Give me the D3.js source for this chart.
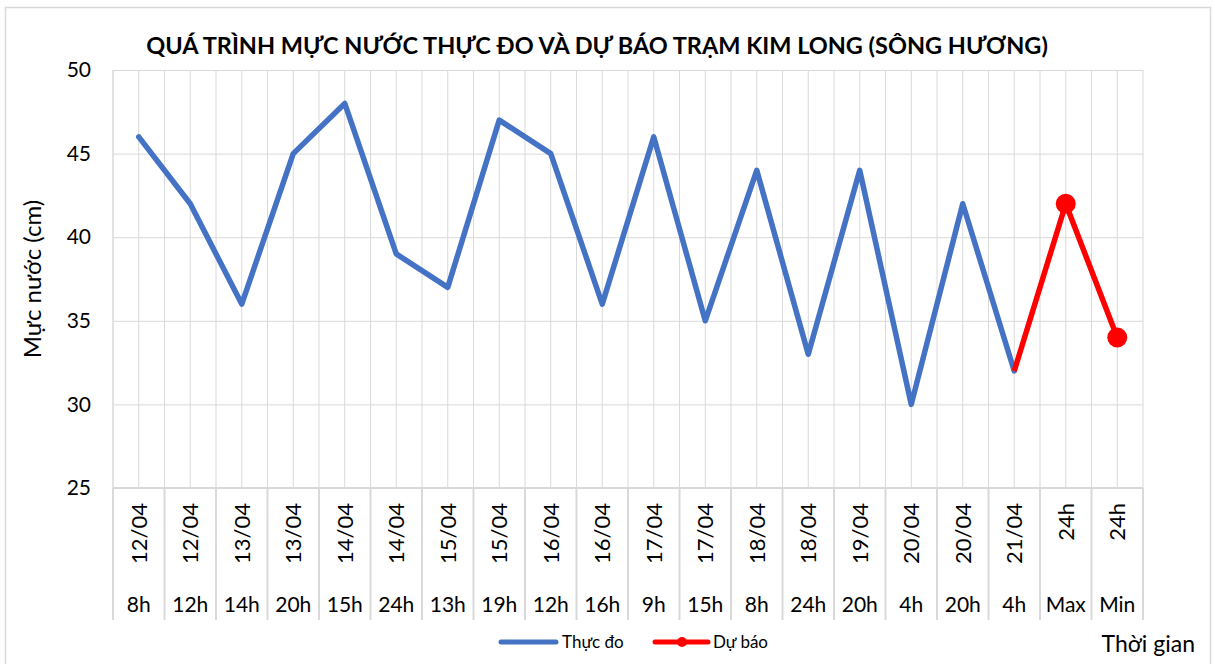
<!DOCTYPE html>
<html>
<head>
<meta charset="utf-8">
<script src="https://cdn.jsdelivr.net/npm/d3@7"></script>
<style>
  body { margin: 0; background: #fff; }
  text { font-family: Lato, "Open Sans", sans-serif; fill: #000; }
</style>
</head>
<body>
<div id="chart"></div>
<script>
// data
const dates = ["12/04", "12/04", "13/04", "13/04", "14/04", "14/04", "15/04", "15/04", "16/04", "16/04",
               "17/04", "17/04", "18/04", "18/04", "19/04", "20/04", "20/04", "21/04", "24h", "24h"];
const hours = ["8h", "12h", "14h", "20h", "15h", "24h", "13h", "19h", "12h", "16h",
               "9h", "15h", "8h", "24h", "20h", "4h", "20h", "4h", "Max", "Min"];
const observed = [46, 42, 36, 45, 48, 39, 37, 47, 45, 36, 46, 35, 44, 33, 44, 30, 42, 32,
                  null, null];
const forecast = [null, null, null, null, null, null, null, null, null, null,
                  null, null, null, null, null, null, null, 32, 42, 34];
const forecastMarkers = [false, false, false, false, false, false, false, false, false, false,
                         false, false, false, false, false, false, false, false, true, true];
const yTicks = [25, 30, 35, 40, 45, 50];

const W = 1215, H = 664;
const margin = {top: 70, right: 72, bottom: 176, left: 113};
const plotW = W - margin.left - margin.right;
const plotH = H - margin.top - margin.bottom;
const gridColor = "#d9d9d9";

const svg = d3.select("#chart").append("svg")
    .attr("width", W)
    .attr("height", H);

svg.append("rect")
    .attr("width", W).attr("height", H).attr("fill", "#fff");

// chart frame
svg.append("rect")
    .attr("x", 5.5).attr("y", 7.5)
    .attr("width", 1205).attr("height", 662)
    .attr("fill", "none")
    .attr("stroke", gridColor)
    .attr("stroke-width", 1.5);

const g = svg.append("g")
    .attr("transform", `translate(${margin.left},${margin.top})`);

const x = d3.scaleBand()
    .domain(d3.range(dates.length))
    .range([0, plotW])
    .padding(0);

const y = d3.scaleLinear()
    .domain([25, 50])
    .range([plotH, 0]);

// vertical grid: at every category edge and centre
const vGrid = [];
x.domain().forEach(i => {
    vGrid.push(x(i));
    vGrid.push(x(i) + x.bandwidth() / 2);
});
vGrid.push(plotW);

g.append("g").attr("class", "v-grid")
    .selectAll("line")
    .data(vGrid)
    .join("line")
    .attr("x1", d => d).attr("x2", d => d)
    .attr("y1", 0).attr("y2", plotH)
    .attr("stroke", gridColor)
    .attr("stroke-width", 1);

// y axis with horizontal grid
const yAxis = d3.axisLeft(y)
    .tickValues(yTicks)
    .tickSize(-plotW)
    .tickPadding(22);

g.append("g")
    .attr("class", "y-axis")
    .call(yAxis)
    .call(s => s.select(".domain").remove())
    .call(s => s.selectAll(".tick line").attr("stroke", gridColor).attr("stroke-width", 1))
    .call(s => s.selectAll(".tick text")
        .style("font-family", "Lato, sans-serif")
        .style("font-size", "21px")
        .attr("fill", "#000"));

g.append("line")
    .attr("x1", 0).attr("x2", 0)
    .attr("y1", 0).attr("y2", plotH)
    .attr("stroke", gridColor).attr("stroke-width", 1);

// category axis (two level)
const catH = 132;
g.append("line")
    .attr("x1", 0).attr("x2", plotW)
    .attr("y1", plotH).attr("y2", plotH)
    .attr("stroke", gridColor).attr("stroke-width", 2);

g.append("g").attr("class", "cat-sep")
    .selectAll("line")
    .data(x.domain().concat([dates.length]))
    .join("line")
    .attr("x1", d => d < dates.length ? x(d) : plotW)
    .attr("x2", d => d < dates.length ? x(d) : plotW)
    .attr("y1", plotH).attr("y2", plotH + catH)
    .attr("stroke", gridColor).attr("stroke-width", 2);

const cx = i => x(i) + x.bandwidth() / 2;

g.append("g").attr("class", "cat-dates")
    .selectAll("text")
    .data(dates)
    .join("text")
    .attr("transform", (d, i) => `translate(${cx(i) + 8},${plotH + 15}) rotate(-90)`)
    .attr("text-anchor", "end")
    .style("font-size", "22px")
    .text(d => d);

g.append("g").attr("class", "cat-hours")
    .selectAll("text")
    .data(hours)
    .join("text")
    .attr("x", (d, i) => cx(i))
    .attr("y", plotH + 124)
    .attr("text-anchor", "middle")
    .style("font-size", "21px")
    .text(d => d);

// lines
const line = d3.line()
    .defined(d => d != null)
    .x((d, i) => cx(i))
    .y(d => y(d));

g.append("path")
    .datum(observed)
    .attr("fill", "none")
    .attr("stroke", "#4472C4")
    .attr("stroke-width", 5.5)
    .attr("stroke-linejoin", "round")
    .attr("stroke-linecap", "round")
    .attr("d", line);

g.append("path")
    .datum(forecast)
    .attr("fill", "none")
    .attr("stroke", "#FF0000")
    .attr("stroke-width", 5.5)
    .attr("stroke-linejoin", "round")
    .attr("d", line);

g.append("g").attr("class", "markers")
    .selectAll("circle")
    .data(forecast.map((v, i) => ({v, i})).filter(d => d.v != null && forecastMarkers[d.i]))
    .join("circle")
    .attr("cx", d => cx(d.i))
    .attr("cy", d => y(d.v))
    .attr("r", 10)
    .attr("fill", "#FF0000");

// titles
svg.append("text")
    .attr("x", 597).attr("y", 54)
    .attr("text-anchor", "middle")
    .style("font-size", "23.5px")
    .style("font-weight", "bold")
    .text("QUÁ TRÌNH MỰC NƯỚC THỰC ĐO VÀ DỰ BÁO TRẠM KIM LONG (SÔNG HƯƠNG)");

svg.append("text")
    .attr("transform", `translate(41,${margin.top + plotH / 2}) rotate(-90)`)
    .attr("text-anchor", "middle")
    .style("font-size", "24px")
    .text("Mực nước (cm)");

svg.append("text")
    .attr("x", 1195).attr("y", 652)
    .attr("text-anchor", "end")
    .style("font-size", "23px")
    .text("Thời gian");

// legend
const legend = svg.append("g").attr("transform", "translate(501,642)");
legend.append("line")
    .attr("x1", 0).attr("x2", 55).attr("y1", 0).attr("y2", 0)
    .attr("stroke", "#4472C4").attr("stroke-width", 5).attr("stroke-linecap", "round");
legend.append("text")
    .attr("x", 61).attr("y", 6)
    .style("font-size", "17px")
    .text("Thực đo");
legend.append("line")
    .attr("x1", 154).attr("x2", 207).attr("y1", 0).attr("y2", 0)
    .attr("stroke", "#FF0000").attr("stroke-width", 5).attr("stroke-linecap", "round");
legend.append("circle")
    .attr("cx", 181).attr("cy", 0).attr("r", 5).attr("fill", "#FF0000");
legend.append("text")
    .attr("x", 212).attr("y", 6)
    .style("font-size", "17px")
    .text("Dự báo");
</script>
</body>
</html>
